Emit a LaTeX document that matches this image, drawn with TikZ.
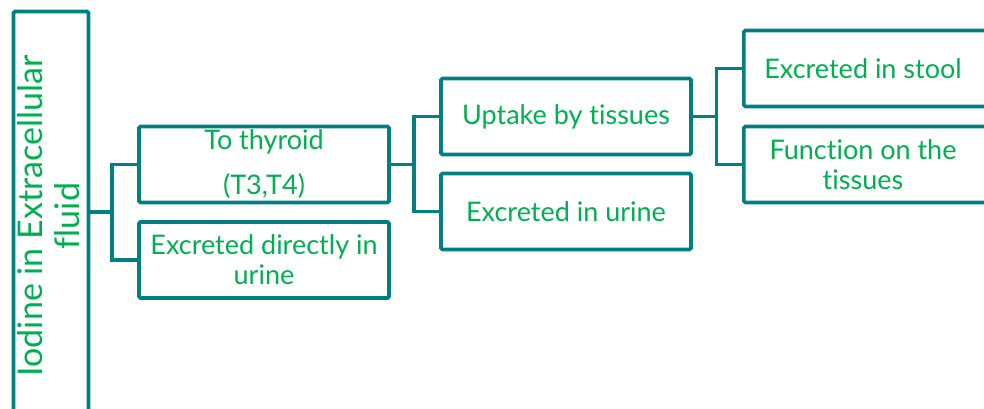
\documentclass[tikz,border=0pt]{standalone}
\usepackage{fontspec}
\setmainfont{Lato}[Ligatures={NoCommon}]
\newcommand{\tnl}{t\kern0pt }
\definecolor{teal1}{RGB}{0,128,128}
\definecolor{green1}{RGB}{0,176,80}
\begin{document}
\begin{tikzpicture}[x=1pt,y=-1pt,
  box/.style={draw=teal1,line width=3.6pt,rounded corners=1.5pt,minimum width=250pt,minimum height=76pt,inner sep=0pt,text=green1,align=center,font=\fontsize{27}{30}\selectfont},
  lbl/.style={text=green1,align=center,inner sep=0pt,font=\fontsize{27}{30}\selectfont},
  conn/.style={draw=teal1,line width=3.6pt}]
\useasboundingbox (0,0) rectangle (984,409);
\draw[draw=teal1,line width=3.6pt,rounded corners=1.5pt] (13.5,11.5) rectangle (88.5,440);
\node[rotate=90,text=green1,align=center,font=\fontsize{34}{37}\selectfont] (root) at (49,216) {Iodine in Extracellular\\fluid};
\coordinate (rootpt) at (88.5,212);
\node[box] (thy) at (264,164.5) {};
\node[lbl] (thyA) at (264,142) {To thyroid};
\node[lbl] (thyB) at (264,186) {(T3,T4)};
\node[box] (dir) at (264,260) {Excreted directly in\\urine};
\node[box] (upt) at (566,116.5) {Uptake by \tnl issues};
\node[box] (uri) at (566,211.5) {Excreted in urine};
\node[box,anchor=west] (sto) at (742,68.5) {};
\node[lbl] (stoT) at (863,69) {Excreted in stool};
\node[box,anchor=west] (fun) at (742,164.5) {};
\node[lbl] (funT) at (863,165) {Func\tnl ion on the\\\tnl issues};
\draw[conn] (thy.west) -- ++(-25.5,0) coordinate (j1) |- (dir.west);
\draw[conn] (rootpt) -- (rootpt -| j1);
\draw[conn] (upt.west) -- ++(-25.5,0) coordinate (j2) |- (uri.west);
\draw[conn] (thy.east) -- (thy.east -| j2);
\draw[conn] (sto.west) -- ++(-25.5,0) coordinate (j3) |- (fun.west);
\draw[conn] (upt.east) -- (upt.east -| j3);
\end{tikzpicture}
\end{document}
